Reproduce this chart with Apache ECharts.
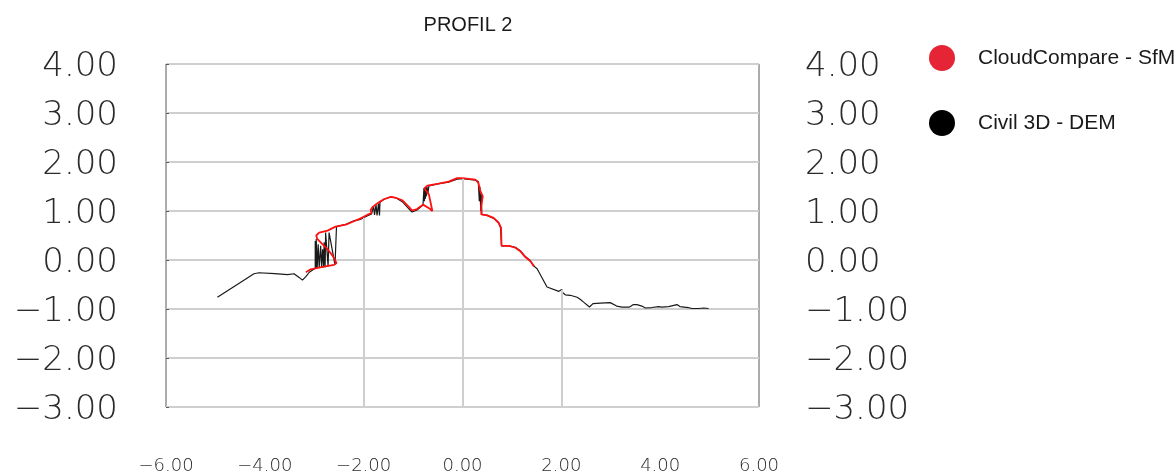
<!DOCTYPE html>
<html>
<head>
<meta charset="utf-8">
<script src="https://cdn.jsdelivr.net/npm/echarts@6/dist/echarts.min.js"></script>
<style>
  html, body { margin: 0; padding: 0; background: #fff; }
  #chart { width: 1176px; height: 475px; }
</style>
</head>
<body>
<div id="chart"></div>
<script>
// Civil 3D - DEM profile (distance, elevation)
const demX = [-4.96, -4.22, -4.12, -3.80, -3.54, -3.41, -3.30, -3.24, -3.17, -3.10,
  -2.98, -2.98, -2.96, -2.96, -2.94, -2.92, -2.90, -2.87, -2.85, -2.83,
  -2.81, -2.80, -2.78, -2.77, -2.72, -2.70, -2.58, -2.55, -2.55, -2.36,
  -2.20, -2.06, -1.93, -1.84, -1.82, -1.80, -1.78, -1.75, -1.73, -1.70,
  -1.68, -1.67, -1.59, -1.45, -1.35, -1.22, -1.08, -1.02, -0.92, -0.80,
  -0.78, -0.78, -0.77, -0.76, -0.75, -0.74, -0.73, -0.72, -0.70, -0.68,
  -0.48, -0.28, -0.11, 0.00, 0.26, 0.32, 0.34, 0.35, 0.37, 0.38,
  0.39, 0.50, 0.63, 0.73, 0.77, 0.79, 0.94, 1.07, 1.17, 1.27,
  1.37, 1.44, 1.51, 1.71, 1.95, 2.01, 2.03, 2.08, 2.18, 2.32,
  2.38, 2.45, 2.57, 2.64, 2.79, 2.99, 3.12, 3.23, 3.38, 3.46,
  3.53, 3.63, 3.70, 3.83, 3.97, 4.00, 4.03, 4.17, 4.34, 4.40,
  4.57, 4.64, 4.78, 4.88, 4.91, 4.98];
const demY = [-0.76, -0.28, -0.26, -0.28, -0.30, -0.28, -0.36, -0.41, -0.34, -0.25,
  -0.17, 0.39, -0.17, 0.43, -0.16, 0.32, -0.16, 0.29, -0.16, 0.22,
  -0.15, 0.36, -0.15, 0.56, -0.13, 0.56, -0.10, -0.10, 0.68, 0.73,
  0.80, 0.83, 0.90, 0.94, 0.93, 1.10, 0.92, 1.13, 0.91, 1.15,
  0.91, 1.18, 1.24, 1.29, 1.27, 1.19, 1.04, 0.98, 1.02, 1.12,
  1.15, 1.47, 1.20, 1.48, 1.25, 1.49, 1.30, 1.50, 1.36, 1.51,
  1.56, 1.59, 1.65, 1.66, 1.63, 1.60, 1.20, 1.50, 1.00, 1.35,
  0.93, 0.91, 0.85, 0.76, 0.66, 0.29, 0.29, 0.26, 0.19, 0.07,
  -0.01, -0.12, -0.18, -0.55, -0.64, -0.60, -0.67, -0.71, -0.72, -0.76,
  -0.80, -0.86, -0.96, -0.89, -0.88, -0.87, -0.94, -0.96, -0.96, -0.91,
  -0.91, -0.94, -0.98, -0.97, -0.95, -0.91, -0.96, -0.95, -0.91, -0.95,
  -0.97, -0.99, -0.99, -0.98, -0.97, -0.99];

// CloudCompare - SfM profile
const sfmX = [-3.17, -3.07, -2.83, -2.60, -2.55, -2.63, -2.73, -2.83, -2.94, -2.96,
  -2.90, -2.73, -2.57, -2.36, -2.20, -2.06, -1.93, -1.84, -1.86, -1.82,
  -1.76, -1.69, -1.59, -1.45, -1.35, -1.22, -1.08, -1.02, -0.92, -0.80,
  -0.67, -0.61, -0.68, -0.77, -0.71, -0.48, -0.28, -0.11, 0.00, 0.26,
  0.32, 0.36, 0.41, 0.38, 0.38, 0.50, 0.63, 0.73, 0.78, 0.79,
  0.94, 1.07, 1.17, 1.27, 1.37, 1.45];
const sfmY = [-0.25, -0.19, -0.14, -0.10, -0.06, 0.09, 0.22, 0.32, 0.43, 0.50,
  0.56, 0.60, 0.68, 0.72, 0.79, 0.85, 0.92, 0.96, 1.02, 1.08,
  1.13, 1.18, 1.24, 1.29, 1.27, 1.22, 1.08, 1.01, 1.04, 1.13,
  1.05, 1.00, 1.34, 1.46, 1.52, 1.56, 1.60, 1.67, 1.67, 1.64,
  1.58, 1.41, 1.30, 1.10, 0.93, 0.91, 0.86, 0.76, 0.66, 0.29,
  0.29, 0.25, 0.18, 0.06, -0.02, -0.13];

// stations that get a grey drop line down to the base
const dropStations = [-2, 0, 2];

const yMin = -3, yMax = 4, xMin = -6, xMax = 6;

function zip(xs, ys) {
  return xs.map((x, i) => [x, ys[i]]);
}

function elevationAt(xs, ys, x) {
  for (let i = 0; i < xs.length - 1; i++) {
    const a = xs[i], b = xs[i + 1];
    if ((a - x) * (b - x) <= 0 && a !== b) {
      return ys[i] + (ys[i + 1] - ys[i]) * (x - a) / (b - a);
    }
  }
  return yMin;
}

function fmt(v) {
  return v.toFixed(2).replace("-", "\u2212");
}

const thinFont = {
  fontFamily: "DejaVu Sans",
  fontWeight: 200,
  color: "#2b2b2b",
};

// big elevation labels, nudged down a little inside their box
const yLabel = (margin) => ({
  margin,
  formatter: (v) => "{v|" + fmt(v) + "}",
  rich: {
    v: { ...thinFont, fontSize: 34, padding: [7, 0, 0, 0] },
  },
});

const chart = echarts.init(document.getElementById("chart"));
const option = {
  animation: false,
  title: {
    text: "PROFIL 2",
    left: 468,
    top: 15,
    padding: 0,
    textAlign: "center",
    textStyle: {
      fontFamily: "Liberation Sans",
      fontWeight: "normal",
      fontSize: 20,
      color: "#1a1a1a",
    },
  },
  legend: {
    data: ["CloudCompare - SfM", "Civil 3D - DEM"],
    orient: "vertical",
    left: 929,
    top: 45,
    padding: 0,
    icon: "circle",
    itemWidth: 26,
    itemHeight: 26,
    itemGap: 39,
    textStyle: {
      fontFamily: "Liberation Sans",
      fontSize: 21,
      color: "#1a1a1a",
      padding: [0, 0, 0, 18],
    },
  },
  grid: {
    left: 166,
    right: 417,
    top: 64,
    bottom: 67,
    show: true,
    borderColor: "#595959",
    borderWidth: 1,
  },
  xAxis: {
    type: "value",
    min: xMin,
    max: xMax,
    interval: 2,
    axisLine: { show: false },
    axisTick: { show: false },
    splitLine: { show: false },
    axisLabel: {
      ...thinFont,
      fontSize: 18,
      margin: 50,
      formatter: fmt,
    },
  },
  yAxis: [
    {
      type: "value",
      position: "left",
      min: yMin,
      max: yMax,
      interval: 1,
      axisLine: { show: false, onZero: false },
      axisTick: { show: true, inside: true, length: 3, lineStyle: { color: "#595959" } },
      splitLine: { show: true, lineStyle: { color: "#cfcfcf", width: 2 } },
      axisLabel: yLabel(48),
    },
    {
      type: "value",
      position: "right",
      min: yMin,
      max: yMax,
      interval: 1,
      axisLine: { show: false, onZero: false },
      axisTick: { show: false },
      splitLine: { show: false },
      axisLabel: yLabel(46),
    },
  ],
  series: [
    {
      name: "Civil 3D - DEM",
      type: "line",
      data: zip(demX, demY),
      symbol: "none",
      itemStyle: { color: "#000000" },
      lineStyle: { color: "#1a1a1a", width: 1.2 },
      z: 2,
      markLine: {
        silent: true,
        symbol: "none",
        label: { show: false },
        lineStyle: { color: "#cfcfcf", width: 2, type: "solid" },
        data: dropStations.map((x) => [
          { coord: [x, elevationAt(demX, demY, x)] },
          { coord: [x, yMin] },
        ]),
      },
    },
    {
      name: "CloudCompare - SfM",
      type: "line",
      data: zip(sfmX, sfmY),
      symbol: "none",
      itemStyle: { color: "#e52535" },
      lineStyle: { color: "#ff1010", width: 1.8 },
      z: 3,
    },
  ],
};
chart.setOption(option);
</script>
</body>
</html>
